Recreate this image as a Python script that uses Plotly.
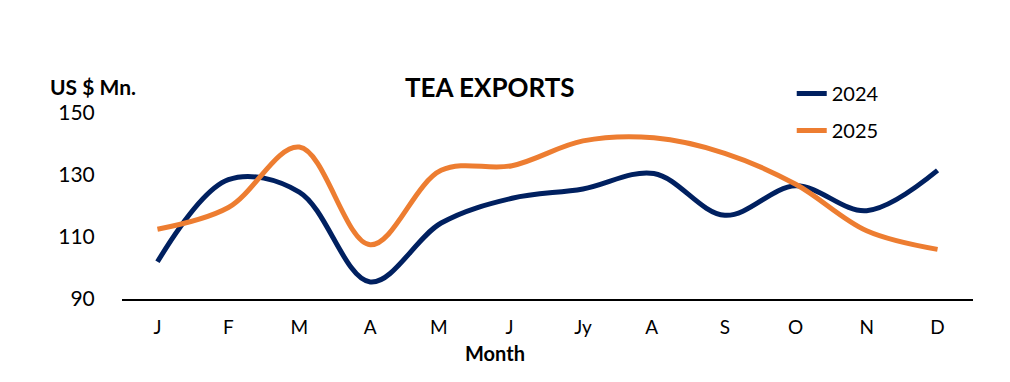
import plotly.graph_objects as go

months = ["J", "F", "M", "A", "M ", "J ", "Jy", "A ", "S", "O", "N", "D"]
exports_2024 = [102, 128.5, 124.5, 95.5, 114.5, 122.5, 125.5, 130.5, 117, 126.5, 118.5, 131.5]
exports_2025 = [112.5, 119.5, 139, 107.5, 131.5, 133, 141, 142, 137, 127, 112, 106]
tick_vals = [90, 110, 130, 150]

FONT = "Lato"
fig = go.Figure()
fig.add_trace(go.Scatter(x=months, y=exports_2024, name="2024", mode="lines",
                         line=dict(color="#002060", width=5, shape="spline", smoothing=1.0),
                         legendgroup="a"))
fig.add_trace(go.Scatter(x=months, y=exports_2025, name="2025", mode="lines",
                         line=dict(color="#ED7D31", width=5, shape="spline", smoothing=1.0),
                         legendgroup="b"))

fig.update_layout(
    width=1010, height=382,
    margin=dict(l=122, r=37, t=113, b=83, autoexpand=False),
    paper_bgcolor="white", plot_bgcolor="white",
    font=dict(family=FONT, size=19, color="black"),
    showlegend=True,
    legend=dict(x=0.787, y=1.21, xanchor="left", yanchor="top",
                font=dict(size=20), tracegroupgap=8, bgcolor="rgba(0,0,0,0)"),
    xaxis=dict(type="category", range=[-0.5, 11.5], showgrid=False, showline=True,
               linecolor="black", linewidth=2, ticks="outside", ticklen=10,
               tickcolor="white", tickfont=dict(size=19), zeroline=False),
    yaxis=dict(range=[90, 150], tickvals=tick_vals, showgrid=False, showline=False,
               zeroline=False, ticks="outside", ticklen=22, tickcolor="white",
               tickfont=dict(size=21)),
    annotations=[
        dict(text="<b>TEA EXPORTS</b>", x=0.432, y=1.14, xref="paper", yref="paper",
             xanchor="center", yanchor="middle", showarrow=False, font=dict(size=26)),
        dict(text="<b>Month</b>", x=0.438, y=-0.29, xref="paper", yref="paper",
             xanchor="center", yanchor="middle", showarrow=False, font=dict(size=20)),
        dict(text="<b>US $ Mn.</b>", x=-0.034, y=1.14, xref="paper", yref="paper",
             xanchor="center", yanchor="middle", showarrow=False, font=dict(size=21)),
    ],
)
fig.write_html("out.html", config={"displayModeBar": False},
               post_script="document.body.style.margin='0';")
